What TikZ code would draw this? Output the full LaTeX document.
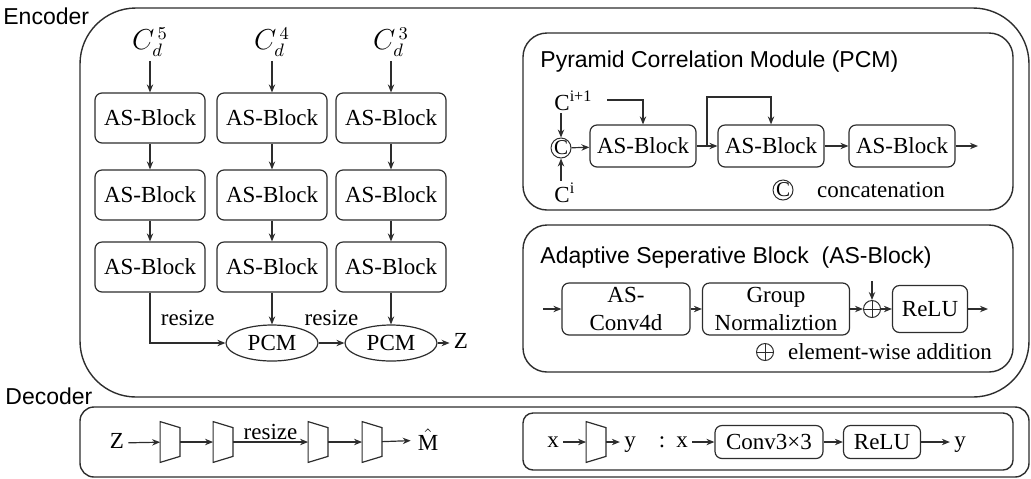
\documentclass[tikz,border=0pt]{standalone}
\usepackage{fontspec}
\setmainfont{Liberation Serif}
\setsansfont{Liberation Sans}
\usetikzlibrary{arrows.meta, shapes.geometric, calc}
\definecolor{linegray}{RGB}{45,45,45}

\begin{document}
\begin{tikzpicture}[x=0.5pt, y=-0.5pt, font=\fontsize{11.5}{14}\selectfont,
  frame/.style={draw=linegray, line width=0.7pt},
  blk/.style={draw=linegray, line width=0.6pt, rounded corners=3.5pt, minimum width=55pt, minimum height=25pt, inner sep=1pt},
  pcmblk/.style={blk, minimum width=53pt, minimum height=21pt},
  pcmell/.style={draw=linegray, line width=0.6pt, ellipse, minimum width=46pt, minimum height=18pt, inner sep=0pt},
  dec/.style={minimum width=9.5pt, minimum height=20pt, inner sep=0pt,
    append after command={\pgfextra{\draw[linegray, line width=0.6pt] (\tikzlastnode.north west) -- ([yshift=-3pt]\tikzlastnode.north east) -- ([yshift=3pt]\tikzlastnode.south east) -- (\tikzlastnode.south west) -- cycle;}}},
  catnode/.style={draw=linegray, line width=0.5pt, circle, minimum size=10pt, inner sep=0pt, font=\fontsize{10.5}{10.5}\selectfont},
  addnode/.style={draw=linegray, line width=0.5pt, circle, minimum size=8.5pt, inner sep=0pt,
    path picture={\draw[line width=0.5pt] (path picture bounding box.north) -- (path picture bounding box.south) (path picture bounding box.west) -- (path picture bounding box.east);}},
  title/.style={font=\sffamily\fontsize{11.5}{14}\selectfont, anchor=west, inner sep=0pt},
  txt/.style={text height=1.6ex, text depth=0.4ex, inner sep=2pt},
  arr/.style={-{Stealth[length=4pt, width=3.2pt]}, line width=0.6pt, draw=linegray}]
  \useasboundingbox (0,0) rectangle (1031,478);

  \draw[frame, rounded corners=28pt] (80,8) rectangle (1029,397);
  \draw[frame, rounded corners=7pt] (80,407) rectangle (1029,477);
  \draw[frame, rounded corners=12pt] (523,33) rectangle (1013,210);
  \draw[frame, rounded corners=12pt] (523,225) rectangle (1013,372);
  \draw[frame, rounded corners=5pt] (523,413) rectangle (1013,470);
  \node[title] (enclbl) at (3,16) {Encoder};
  \node[title] (declbl) at (5,396) {Decoder};

  \foreach \lv/\x in {5/150, 4/272, 3/391} {
    \node[font=\fontsize{13.5}{15}\selectfont, inner sep=2pt] (c\lv) at (\x,42) {$C_{d}^{\,\lv}$};
    \node[blk] (b\lv1) at (\x,118) {AS-Block};
    \node[blk] (b\lv2) at (\x,195) {AS-Block};
    \node[blk] (b\lv3) at (\x,267) {AS-Block};
    \draw[arr] (c\lv) -- (b\lv1);
    \draw[arr] (b\lv1) -- (b\lv2);
    \draw[arr] (b\lv2) -- (b\lv3);
  }
  \node[pcmell] (p1) at (272,343) {PCM};
  \node[pcmell] (p2) at (391,343) {PCM};
  \node[txt] (z1) at (461,343) {Z};
  \draw[arr] (b53) |- node[pos=0.75, above=5pt] {resize} (p1);
  \draw[arr] (b43) -- (p1);
  \draw[arr] (b33) -- (p2);
  \draw[arr] (p1) -- node[above=5pt] {resize} (p2);
  \draw[arr] (p2) -- (z1);

  \node[title] (pcmt) at (540,62) {Pyramid Correlation Module (PCM)};
  \node[anchor=west, inner sep=1pt] (cup) at (552,101) {C\textsuperscript{i+1}};
  \node[catnode] (cat) at (561,148) {C};
  \node[anchor=west, inner sep=1pt] (clow) at (552,193) {C\textsuperscript{i}};
  \node[pcmblk] (a1) at (643,146) {AS-Block};
  \node[pcmblk] (a2) at (771,146) {AS-Block};
  \node[pcmblk] (a3) at (902,146) {AS-Block};
  \coordinate (in1) at (607,100);
  \coordinate (br1) at (707,146);
  \coordinate (out1) at (978,146);
  \draw[arr] (cup.south -| cat) -- (cat);
  \draw[arr] (clow.north -| cat) -- (cat);
  \draw[arr] (cat) -- (a1);
  \draw[arr] (in1) -| (a1.north);
  \draw[arr] (a1) -- (a2);
  \draw[arr] (br1) -- ++(0,-49) -| (a2.north);
  \draw[arr] (a2) -- (a3);
  \draw[arr] (a3) -- (out1);
  \node[catnode] (catkey) at (783,190) {C};
  \node[anchor=west] (catlbl) at (810,190) {concatenation};

  \node[title] (ast) at (540,258) {Adaptive Seperative Block\ \ (AS-Block)};
  \node[blk, minimum width=64pt, minimum height=26pt, align=center] (conv) at (626,309) {AS-\\Conv4d};
  \node[blk, minimum width=73.5pt, minimum height=26pt, align=center] (gn) at (776,309) {Group\\Normaliztion};
  \node[addnode] (add) at (872,309) {};
  \node[blk, minimum width=37.5pt, minimum height=23.5pt] (relu) at (930,309) {ReLU};
  \coordinate (in2) at (543,309);
  \coordinate (res2) at (872,281);
  \coordinate (out2) at (988,309);
  \draw[arr] (in2) -- (conv);
  \draw[arr] (conv) -- (gn);
  \draw[arr] (gn) -- (add);
  \draw[arr] (res2) -- (add);
  \draw[arr] (add) -- (relu);
  \draw[arr] (relu) -- (out2);
  \node[addnode] (addkey) at (765,352) {};
  \node[anchor=west] (addlbl) at (781,352) {element-wise addition};

  \node[txt] (z2) at (117,443) {Z};
  \node[dec] (t1) at (170,442) {};
  \node[dec] (t2) at (223,442) {};
  \node[dec] (t3) at (318,442) {};
  \node[dec] (t4) at (372,442) {};
  \node (mhat) at (428,440) {$\hat{\textrm{M}}$};
  \draw[arr] (z2) -- (t1);
  \draw[arr] (t1) -- (t2);
  \draw[arr] (t2) -- node[above, inner sep=1pt] {resize} (t3);
  \draw[arr] (t3) -- (t4);
  \draw[arr] (t4) -- (mhat);

  \node[txt] (x1) at (553,442) {x};
  \node[dec] (t5) at (596,442) {};
  \node[txt] (y1) at (630,442) {y};
  \node[txt] (colon) at (662,442) {:};
  \node[txt] (x2) at (682,442) {x};
  \node[blk, minimum width=54pt, minimum height=16.5pt] (c3) at (769,442) {Conv3×3};
  \node[blk, minimum width=38.5pt, minimum height=16.5pt] (relu2) at (882,442) {ReLU};
  \node[txt] (y2) at (960,442) {y};
  \draw[arr] (x1) -- (t5);
  \draw[arr] (t5) -- (y1);
  \draw[arr] (x2) -- (c3);
  \draw[arr] (c3) -- (relu2);
  \draw[arr] (relu2) -- (y2);
\end{tikzpicture}
\end{document}
